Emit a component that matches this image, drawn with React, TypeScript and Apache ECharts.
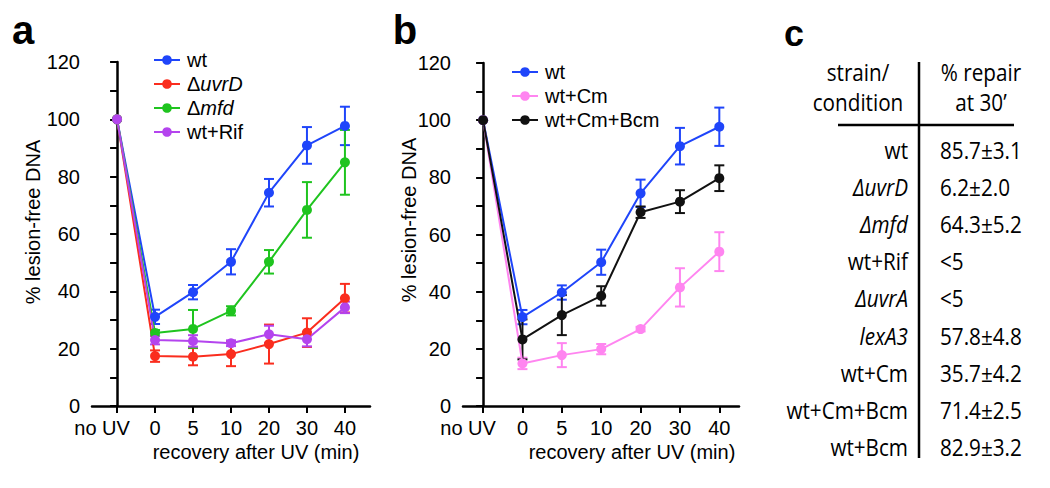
import React, { useEffect, useRef } from "react";
import * as echarts from "echarts";

// ---------- data ----------
const xLabels = ["no UV", "0", "5", "10", "20", "30", "40"];
const xPos = [0, 1, 2, 3, 4, 5, 6];

const wtMean = [100, 31.1, 39.7, 50.3, 74.4, 90.9, 97.7];
const wtErr = [0, 2.5, 2.5, 4.4, 4.8, 6.4, 6.7];
const uvrDMean = [100, 17.4, 17.2, 18.1, 21.6, 25.6, 37.6];
const uvrDErr = [0, 2, 3, 4.2, 6.8, 5, 5];
const mfdMean = [100, 25.5, 26.9, 33.2, 50.3, 68.4, 85.0];
const mfdErr = [0, 1, 6.6, 1.6, 4.1, 9.7, 11.3];
const rifMean = [100, 23.0, 22.7, 21.9, 25.0, 23.3, 34.4];
const rifErr = [0, 1.5, 2, 1, 3, 2.5, 2];
const cmMean = [100, 14.9, 17.8, 19.9, 26.9, 41.5, 54.0];
const cmErr = [0, 2, 4.2, 1.8, 0.8, 6.7, 6.8];
const cmBcmMean = [100, 23.3, 31.8, 38.5, 67.8, 71.5, 79.7];
const cmBcmErr = [0, 7, 7, 3.4, 2, 4, 4.5];

const yTicks = [0, 20, 40, 60, 80, 100, 120];

const tableStrains = ["wt", "ΔuvrD", "Δmfd", "wt+Rif", "ΔuvrA", "lexA3", "wt+Cm", "wt+Cm+Bcm", "wt+Bcm"];
const tableItalic = [false, true, true, false, true, true, false, false, false];
const tableRepair = ["85.7±3.1", "6.2±2.0", "64.3±5.2", "<5", "<5", "57.8±4.8", "35.7±4.2", "71.4±2.5", "82.9±3.2"];
const tableHeadLeft = ["strain/", "condition"];
const tableHeadRight = ["% repair", "at 30’"];

// ---------- style ----------
const C = {
  wt: "#1f45fa",
  uvrD: "#fa2d1e",
  mfd: "#1fc41f",
  rif: "#b444ee",
  cm: "#ff85f0",
  cmBcm: "#111111",
};
const ARIAL = "Liberation Sans, Arial, sans-serif";
const TABLEFONT = "Open Sans, sans-serif";
const TFS = 23.5;
const TSX = 0.88;

function lineSeries(name: string, mean: number[], color: string, gi: number) {
  return {
    type: "line",
    name,
    xAxisIndex: gi,
    yAxisIndex: gi,
    data: xPos.map((x, i) => [x, mean[i]]),
    symbol: "circle",
    symbolSize: 10,
    lineStyle: { color, width: 2 },
    itemStyle: { color },
    z: 3,
  };
}

function errSeries(name: string, mean: number[], err: number[], color: string, gi: number) {
  return {
    type: "custom",
    name: name + " err",
    xAxisIndex: gi,
    yAxisIndex: gi,
    data: xPos.filter((_, i) => err[i] > 0).map((x) => {
      const i = xPos.indexOf(x);
      return [x, mean[i] - err[i], mean[i] + err[i]];
    }),
    encode: { x: 0, y: [1, 2] },
    z: 2,
    renderItem: (params: any, api: any) => {
      const x = api.value(0);
      const lo = api.coord([x, api.value(1)]);
      const hi = api.coord([x, api.value(2)]);
      const hw = 5;
      const st = { stroke: color, lineWidth: 2 };
      return {
        type: "group",
        children: [
          { type: "line", shape: { x1: lo[0], y1: lo[1], x2: hi[0], y2: hi[1] }, style: st },
          { type: "line", shape: { x1: lo[0] - hw, y1: lo[1], x2: lo[0] + hw, y2: lo[1] }, style: st },
          { type: "line", shape: { x1: hi[0] - hw, y1: hi[1], x2: hi[0] + hw, y2: hi[1] }, style: st },
        ],
      };
    },
  };
}

function xAxis(gi: number, min: number, max: number) {
  return {
    type: "value",
    gridIndex: gi,
    min,
    max,
    axisLine: { lineStyle: { color: "#000", width: 2.5 } },
    axisTick: { customValues: xPos, length: 7, lineStyle: { color: "#000", width: 2 } },
    axisLabel: {
      customValues: xPos,
      formatter: (v: number) => {
        const i = Math.round(v);
        const s = xLabels[i] ?? "";
        return i === 0 ? "{first|" + s + "}" : s;
      },
      color: "#000",
      fontSize: 20,
      fontFamily: ARIAL,
      margin: 12,
      rich: {
        first: { fontSize: 20, fontFamily: ARIAL, color: "#000", padding: [0, 30, 0, 0] },
      },
    },
    splitLine: { show: false },
  };
}

function yAxis(gi: number) {
  return {
    type: "value",
    gridIndex: gi,
    min: 0,
    max: 120,
    interval: 10,
    axisLine: { show: true, lineStyle: { color: "#000", width: 2.5 } },
    axisTick: { show: true, length: 7, lineStyle: { color: "#000", width: 2 } },
    axisLabel: {
      formatter: (v: number) => (yTicks.includes(v) ? String(v) : ""),
      color: "#000",
      fontSize: 20,
      fontFamily: ARIAL,
      margin: 12,
    },
    splitLine: { show: false },
  };
}

const legendRich: Record<string, string> = {
  "ΔuvrD": "{u|Δ}{i|uvrD}",
  "Δmfd": "{u|Δ}{i|mfd}",
};

function legend(left: number, top: number, data: string[]) {
  return {
    orient: "vertical",
    left,
    top,
    data,
    itemWidth: 26,
    itemHeight: 12,
    itemGap: 4,
    formatter: (n: string) => legendRich[n] ?? n,
    textStyle: {
      fontSize: 20,
      fontFamily: ARIAL,
      color: "#000",
      padding: [0, 0, 0, 2],
      rich: {
        u: { fontSize: 20, fontFamily: ARIAL, color: "#000" },
        i: { fontSize: 20, fontFamily: ARIAL, color: "#000", fontStyle: "italic" },
      },
    },
  };
}

function txt(text: string, x: number, y: number, extra: any = {}) {
  return {
    type: "text",
    x,
    y,
    style: {
      text,
      fill: "#000",
      fontSize: 20,
      fontFamily: ARIAL,
      align: "center",
      verticalAlign: "middle",
      ...extra,
    },
  };
}

function ttxt(text: string, x: number, y: number, extra: any = {}) {
  return { ...txt(text, x, y, { fontSize: TFS, fontFamily: TABLEFONT, ...extra }), scaleX: TSX };
}

export default function App() {
  const ref = useRef<HTMLDivElement>(null);
  useEffect(() => {
    const chart = echarts.init(ref.current!, null, { renderer: "svg" });

    const graphics: any[] = [];
    // panel letters
    graphics.push(txt("a", 23, 30, { fontSize: 40, fontWeight: "bold" }));
    graphics.push(txt("b", 405, 30, { fontSize: 40, fontWeight: "bold" }));
    graphics.push(txt("c", 794, 33, { fontSize: 36, fontWeight: "bold" }));
    // axis titles
    graphics.push(txt("recovery after UV (min)", 256, 452));
    graphics.push(txt("recovery after UV (min)", 632, 452));
    graphics.push({ ...txt("% lesion-free DNA", 33, 222), rotation: Math.PI / 2 });
    graphics.push({ ...txt("% lesion-free DNA", 409, 220), rotation: Math.PI / 2 });
    // table
    tableHeadLeft.forEach((t, i) => graphics.push(ttxt(t, 858, 71 + i * 30)));
    tableHeadRight.forEach((t, i) => graphics.push(ttxt(t, 981, 71 + i * 30)));
    tableStrains.forEach((t, i) =>
      graphics.push(
        ttxt(t, 908, 149 + i * 37.2, {
          align: "right",
          fontStyle: tableItalic[i] ? "italic" : "normal",
        })
      )
    );
    tableRepair.forEach((t, i) => graphics.push(ttxt(t, 940, 149 + i * 37.2, { align: "left" })));
    graphics.push({ type: "line", shape: { x1: 919, y1: 62, x2: 919, y2: 458 }, style: { stroke: "#000", lineWidth: 2.5 } });
    graphics.push({ type: "line", shape: { x1: 838, y1: 125, x2: 1014, y2: 125 }, style: { stroke: "#000", lineWidth: 2.5 } });

    chart.setOption({
      animation: false,
      backgroundColor: "#fff",
      grid: [
        { left: 92, top: 62, width: 278, height: 344 },
        { left: 463, top: 63, width: 276, height: 343 },
      ],
      xAxis: [xAxis(0, -0.66, 6.66), xAxis(1, -0.51, 6.5)],
      yAxis: [yAxis(0), yAxis(1)],
      legend: [
        legend(148, 45, ["wt", "ΔuvrD", "Δmfd", "wt+Rif"]),
        legend(506, 57, ["wt", "wt+Cm", "wt+Cm+Bcm"]),
      ],
      series: [
        errSeries("wt", wtMean, wtErr, C.wt, 0),
        errSeries("ΔuvrD", uvrDMean, uvrDErr, C.uvrD, 0),
        errSeries("Δmfd", mfdMean, mfdErr, C.mfd, 0),
        errSeries("wt+Rif", rifMean, rifErr, C.rif, 0),
        lineSeries("wt", wtMean, C.wt, 0),
        lineSeries("ΔuvrD", uvrDMean, C.uvrD, 0),
        lineSeries("Δmfd", mfdMean, C.mfd, 0),
        lineSeries("wt+Rif", rifMean, C.rif, 0),
        errSeries("wt", wtMean, wtErr, C.wt, 1),
        errSeries("wt+Cm", cmMean, cmErr, C.cm, 1),
        errSeries("wt+Cm+Bcm", cmBcmMean, cmBcmErr, C.cmBcm, 1),
        lineSeries("wt", wtMean, C.wt, 1),
        lineSeries("wt+Cm", cmMean, C.cm, 1),
        lineSeries("wt+Cm+Bcm", cmBcmMean, C.cmBcm, 1),
      ],
      graphic: graphics,
    });
    return () => chart.dispose();
  }, []);
  return <div ref={ref} style={{ position: "fixed", left: 0, top: 0, width: 1050, height: 488 }} />;
}
